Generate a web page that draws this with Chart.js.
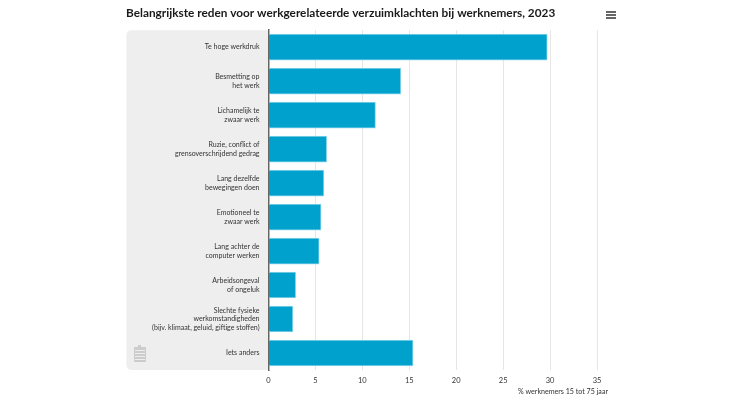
<!DOCTYPE html>
<html>
<head>
<meta charset="utf-8">
<style>
  html, body { margin: 0; padding: 0; background: #fff; }
  #wrap { position: relative; width: 750px; height: 400px; }
</style>
</head>
<body>
<div id="wrap"><canvas id="myChart" width="750" height="400"></canvas></div>
<script src="https://cdn.jsdelivr.net/npm/chart.js@4/dist/chart.umd.min.js"></script>
<script>
const chartTitle = "Belangrijkste reden voor werkgerelateerde verzuimklachten bij werknemers, 2023";
const axisTitle = "% werknemers 15 tot 75 jaar";
const categories = [
  "Te hoge werkdruk",
  ["Besmetting op", "het werk"],
  ["Lichamelijk te", "zwaar werk"],
  ["Ruzie, conflict of", "grensoverschrijdend gedrag"],
  ["Lang dezelfde", "bewegingen doen"],
  ["Emotioneel te", "zwaar werk"],
  ["Lang achter de", "computer werken"],
  ["Arbeidsongeval", "of ongeluk"],
  ["Slechte fysieke", "werkomstandigheden", "(bijv. klimaat, geluid, giftige stoffen)"],
  "Iets anders",
];
const values = [29.7, 14.1, 11.4, 6.2, 5.9, 5.6, 5.4, 2.9, 2.6, 15.4];

const fontName = "Lato, sans-serif";

// grey band behind the labels, logo, menu icon and axis caption
const decorations = {
  id: "decorations",
  beforeDraw(chart) {
    const ctx = chart.ctx;
    const area = chart.chartArea;
    ctx.save();
    ctx.fillStyle = "#eeeeee";
    ctx.beginPath();
    ctx.roundRect(126.5, area.top, area.left - 126.5, area.bottom - area.top, [5, 0, 0, 5]);
    ctx.fill();

    // small logo bottom left
    ctx.fillStyle = "#cccccc";
    ctx.fillRect(134, 347, 12, 15);
    ctx.fillRect(138, 345, 3, 2);
    ctx.fillStyle = "#eeeeee";
    for (let y = 350; y < 362; y += 3) ctx.fillRect(135, y, 10, 1);
    ctx.restore();
  },
  afterDraw(chart) {
    const ctx = chart.ctx;
    ctx.save();
    ctx.fillStyle = "#666666";
    ctx.fillRect(606, 11, 10, 2);
    ctx.fillRect(606, 14, 10, 2);
    ctx.fillRect(606, 17, 10, 2);

    ctx.fillStyle = "#333333";
    ctx.font = "7.1px " + fontName;
    ctx.textAlign = "right";
    ctx.textBaseline = "middle";
    ctx.fillText(axisTitle, 608, 392);
    ctx.restore();
  },
};

function initChart() {
  const data = {
    labels: categories,
    datasets: [
      {
        data: values,
        backgroundColor: "#00a1cd",
        borderColor: "#8fd6ea",
        borderWidth: 1,
        barThickness: 26,
      },
    ],
  };
  const config = {
    type: "bar",
    data,
    options: {
      indexAxis: "y",
      responsive: false,
      animation: false,
      layout: { padding: { left: 126, right: 153, top: 0, bottom: 0 } },
      plugins: {
        legend: { display: false },
        tooltip: { enabled: false },
        title: {
          display: true,
          text: chartTitle,
          align: "start",
          color: "#1a1a1a",
          font: { family: fontName, size: 11.8, weight: "bold" },
          padding: { top: 6, bottom: 10 },
        },
      },
      scales: {
        x: {
          min: 0,
          max: 35,
          afterFit(scale) { scale.height = 30; },
          ticks: {
            stepSize: 5,
            maxRotation: 0,
            padding: 6,
            color: "#333333",
            font: { family: fontName, size: 7.5 },
          },
          grid: { color: "#e6e6e6", lineWidth: 1, drawTicks: false },
          border: { display: false },
        },
        y: {
          afterFit(scale) { scale.width = 142.5; },
          ticks: {
            padding: 9,
            autoSkip: false,
            color: "#333333",
            font: { family: fontName, size: 7, lineHeight: 1.22 },
          },
          grid: { display: false, drawTicks: false },
          border: { color: "#666666", width: 1.5 },
        },
      },
    },
    plugins: [decorations],
  };

  return new Chart(document.getElementById("myChart"), config);
}

initChart();
</script>
</body>
</html>
